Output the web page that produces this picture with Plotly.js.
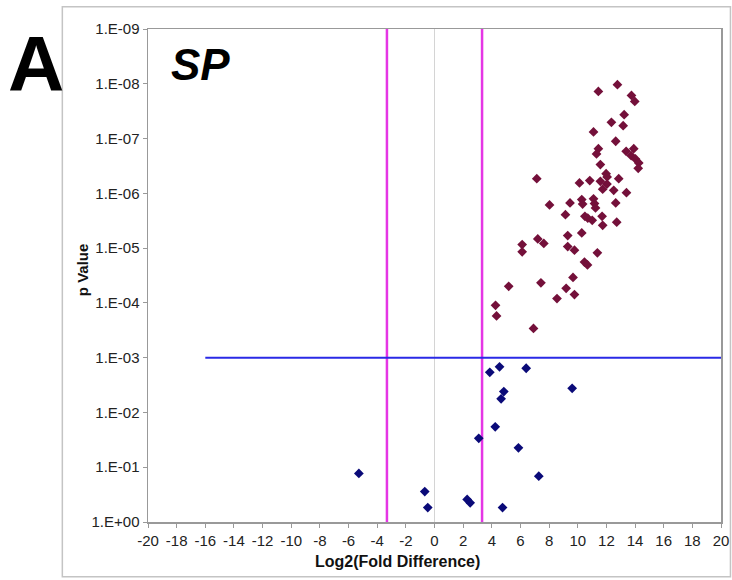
<!DOCTYPE html>
<html>
<head>
<meta charset="utf-8">
<script src="https://cdn.plot.ly/plotly-3.0.1.min.js"></script>
<style>
html,body{margin:0;padding:0;background:#fff;}
#chart{width:732px;height:580px;}
</style>
</head>
<body>
<div id="chart"></div>
<script>
// Significant genes (p < 0.001) — log2 fold difference
var sigX = [11.44,12.77,13.75,13.98,13.24,12.35,13.17,11.10,12.65,11.44,11.31,13.91,13.38,13.73,14.03,14.26,14.22,11.58,
            7.14,10.12,10.84,11.58,11.98,12.05,12.04,12.86,11.74,12.51,13.40,8.03,9.46,10.28,10.34,11.10,11.17,11.24,12.65,
            9.14,10.50,10.70,11.01,11.70,11.74,12.72,9.30,10.28,7.21,7.63,6.12,6.12,9.30,9.77,11.37,10.47,10.68,
            5.18,7.43,9.67,9.19,9.77,8.55,4.26,4.33,6.91];
// Significant genes — p values
var sigP = [1.38e-8,1.04e-8,1.63e-8,2.10e-8,3.66e-8,5.06e-8,5.82e-8,7.58e-8,1.12e-7,1.53e-7,1.91e-7,1.53e-7,1.71e-7,2.05e-7,2.36e-7,2.79e-7,3.50e-7,2.99e-7,
            5.39e-7,6.46e-7,5.86e-7,6.04e-7,4.37e-7,5.02e-7,6.79e-7,5.39e-7,8.38e-7,8.81e-7,9.71e-7,1.63e-6,1.50e-6,1.30e-6,1.57e-6,1.26e-6,1.54e-6,1.85e-6,1.50e-6,
            2.45e-6,2.63e-6,2.84e-6,3.11e-6,2.63e-6,3.84e-6,3.36e-6,5.91e-6,5.28e-6,6.79e-6,8.20e-6,8.63e-6,1.17e-5,9.39e-6,1.09e-5,1.22e-5,1.80e-5,2.03e-5,
            4.98e-5,4.31e-5,3.43e-5,5.42e-5,7.06e-5,8.35e-5,1.11e-4,1.73e-4,2.92e-4];
// Non-significant genes — log2 fold difference
var nsX = [3.86,4.54,6.40,4.84,4.65,9.61,4.24,3.09,5.86,-5.28,7.28,-0.68,-0.47,2.28,2.49,4.75];
// Non-significant genes — p values
var nsP = [1.85e-3,1.47e-3,1.56e-3,4.16e-3,5.65e-3,3.62e-3,1.83e-2,2.96e-2,4.43e-2,0.130,0.146,0.278,0.544,0.388,0.446,0.544];
// Thresholds
var foldCut = [-3.32, 3.32];
var pCut = 0.001;
var pLineX = [-16, 20];
// Axis ticks
var yTickVals = [1, 1e-1, 1e-2, 1e-3, 1e-4, 1e-5, 1e-6, 1e-7, 1e-8, 1e-9];
var yTickText = ["1.E+00","1.E-01","1.E-02","1.E-03","1.E-04","1.E-05","1.E-06","1.E-07","1.E-08","1.E-09"];
var xTickVals = [-20,-18,-16,-14,-12,-10,-8,-6,-4,-2,0,2,4,6,8,10,12,14,16,18,20];

var traces = [
  {x:[foldCut[0],foldCut[0]], y:[1,1e-9], mode:'lines', line:{color:'#E535E5', width:2.5}, hoverinfo:'skip', showlegend:false},
  {x:[foldCut[1],foldCut[1]], y:[1,1e-9], mode:'lines', line:{color:'#E535E5', width:2.5}, hoverinfo:'skip', showlegend:false},
  {x:pLineX, y:[pCut,pCut], mode:'lines', line:{color:'#2A2AE6', width:2}, hoverinfo:'skip', showlegend:false},
  {x:nsX, y:nsP, mode:'markers', marker:{symbol:'diamond', size:7.5, color:'#0A0A78'}, showlegend:false},
  {x:sigX, y:sigP, mode:'markers', marker:{symbol:'diamond', size:7.5, color:'#74103A'}, showlegend:false}
];

var font = "'Liberation Sans', Arial, sans-serif";
var layout = {
  width:732, height:580,
  margin:{l:148, r:11, t:29, b:58},
  paper_bgcolor:'#fff', plot_bgcolor:'#fff',
  showlegend:false,
  font:{family:font, size:15, color:'#222'},
  xaxis:{
    range:[-20,20], tickvals:xTickVals, ticktext:xTickVals.map(String),
    showgrid:false, zeroline:true, zerolinecolor:'#d4d4d4', zerolinewidth:1,
    showline:true, linecolor:'#999', linewidth:1.5, mirror:true,
    ticks:'outside', ticklen:4, tickcolor:'#999',
    tickfont:{family:font, size:15, color:'#222'}
  },
  yaxis:{
    type:'log', range:[0,-9], tickvals:yTickVals, ticktext:yTickText,
    showgrid:false, zeroline:false,
    showline:true, linecolor:'#999', linewidth:1.5, mirror:true,
    ticks:'outside', ticklen:4, tickcolor:'#999',
    tickfont:{family:font, size:15, color:'#222'}
  },
  shapes:[
    {type:'rect', xref:'paper', yref:'paper', x0:-0.1495, x1:1.0165, y0:-0.111, y1:1.045,
     line:{color:'#c4c4c4', width:1.5}, fillcolor:'rgba(0,0,0,0)', layer:'below'}
  ],
  annotations:[
    {text:'<b>A</b>', xref:'paper', yref:'paper', x:-0.1946, y:0.929, xanchor:'center', yanchor:'middle',
     showarrow:false, font:{family:font, size:78, color:'#000'}},
    {text:'<b><i>SP</i></b>', xref:'paper', yref:'paper', x:0.037, y:0.928, xanchor:'left', yanchor:'middle',
     showarrow:false, font:{family:font, size:44, color:'#000'}},
    {text:'<b>Log2(Fold Difference)</b>', xref:'paper', yref:'paper', x:0.4346, y:-0.0795, xanchor:'center', yanchor:'middle',
     showarrow:false, font:{family:font, size:16, color:'#111'}},
    {text:'<b>p Value</b>', xref:'paper', yref:'paper', x:-0.115, y:0.511, xanchor:'center', yanchor:'middle', textangle:-90,
     showarrow:false, font:{family:font, size:15, color:'#111'}}
  ]
};

Plotly.newPlot('chart', traces, layout, {displayModeBar:false, staticPlot:true});
</script>
</body>
</html>
